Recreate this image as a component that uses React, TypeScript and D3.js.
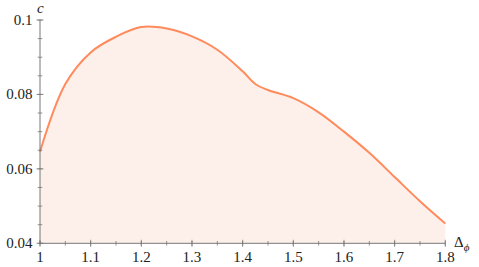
import React from "react";
import * as d3 from "d3";

const xs = [1.0, 1.05, 1.1, 1.15, 1.2, 1.25, 1.3, 1.35, 1.4, 1.425, 1.45, 1.5, 1.55, 1.6, 1.65, 1.7, 1.75, 1.8];
const cs = [0.0646, 0.0828, 0.0913, 0.0955, 0.0981, 0.0977, 0.0956, 0.092, 0.0862, 0.0828, 0.0812, 0.079, 0.0752, 0.07, 0.0643, 0.0578, 0.0513, 0.0453];
const xTicks = [1, 1.1, 1.2, 1.3, 1.4, 1.5, 1.6, 1.7, 1.8];
const xTickLabels = ["1", "1.1", "1.2", "1.3", "1.4", "1.5", "1.6", "1.7", "1.8"];
const yTicks = [0.04, 0.06, 0.08, 0.1];
const yTickLabels = ["0.04", "0.06", "0.08", "0.1"];

export default function App() {
  const W = 479, H = 267;
  const x = d3.scaleLinear().domain([1, 1.8]).range([40, 445.3]);
  const y = d3.scaleLinear().domain([0.04, 0.1]).range([243.3, 20]);
  const data = xs.map((v, i) => [v, cs[i]] as [number, number]);
  const curve = d3.curveCatmullRom.alpha(0.5);
  const line = d3.line<[number, number]>().x(d => x(d[0])).y(d => y(d[1])).curve(curve);
  const area = d3.area<[number, number]>().x(d => x(d[0])).y0(y(0.04)).y1(d => y(d[1])).curve(curve);
  const xMinor = d3.range(1, 1.8001, 0.05);
  const yMinor = d3.range(0.04, 0.1001, 0.005);
  const axisColor = "#777";
  const font = "'Liberation Serif', 'Times New Roman', serif";
  return (
    <svg width={W} height={H} style={{ position: "absolute", left: 0, top: 0 }}>
      <path d={area(data) || ""} fill="#fdf0eb" />
      <path d={line(data) || ""} fill="none" stroke="#ff8a5c" strokeWidth={2} />
      <line x1={40} x2={445.3} y1={243.3} y2={243.3} stroke={axisColor} strokeWidth={1} />
      <line x1={40} x2={40} y1={20} y2={243.3} stroke={axisColor} strokeWidth={1} />
      {xMinor.map((v, i) => (
        <line key={"xm" + i} x1={x(v)} x2={x(v)} y1={243.3 - 2.3} y2={243.3 + 2.3} stroke={axisColor} strokeWidth={0.8} />
      ))}
      {xTicks.map((v, i) => (
        <line key={"xt" + i} x1={x(v)} x2={x(v)} y1={243.3 - 3.5} y2={243.3 + 3.5} stroke={axisColor} strokeWidth={0.8} />
      ))}
      {yMinor.map((v, i) => (
        <line key={"ym" + i} x1={40 - 2.3} x2={40 + 2.3} y1={y(v)} y2={y(v)} stroke={axisColor} strokeWidth={0.8} />
      ))}
      {yTicks.map((v, i) => (
        <line key={"yt" + i} x1={40 - 3.5} x2={40 + 3.5} y1={y(v)} y2={y(v)} stroke={axisColor} strokeWidth={0.8} />
      ))}
      {xTicks.map((v, i) => (
        <text key={"xl" + i} x={x(v)} y={262} textAnchor="middle" fontFamily={font} fontSize={15} fill="#222">{xTickLabels[i]}</text>
      ))}
      {yTicks.map((v, i) => (
        <text key={"yl" + i} x={32.5} y={y(v) + 5} textAnchor="end" fontFamily={font} fontSize={15} fill="#222">{yTickLabels[i]}</text>
      ))}
      <text x={37} y={13} fontFamily={font} fontSize={15} fontStyle="italic" fill="#222">c</text>
      <text x={454} y={247} fontFamily={font} fontSize={15} fill="#222">Δ<tspan dy={4} fontSize={11} fontStyle="italic">ϕ</tspan></text>
    </svg>
  );
}
